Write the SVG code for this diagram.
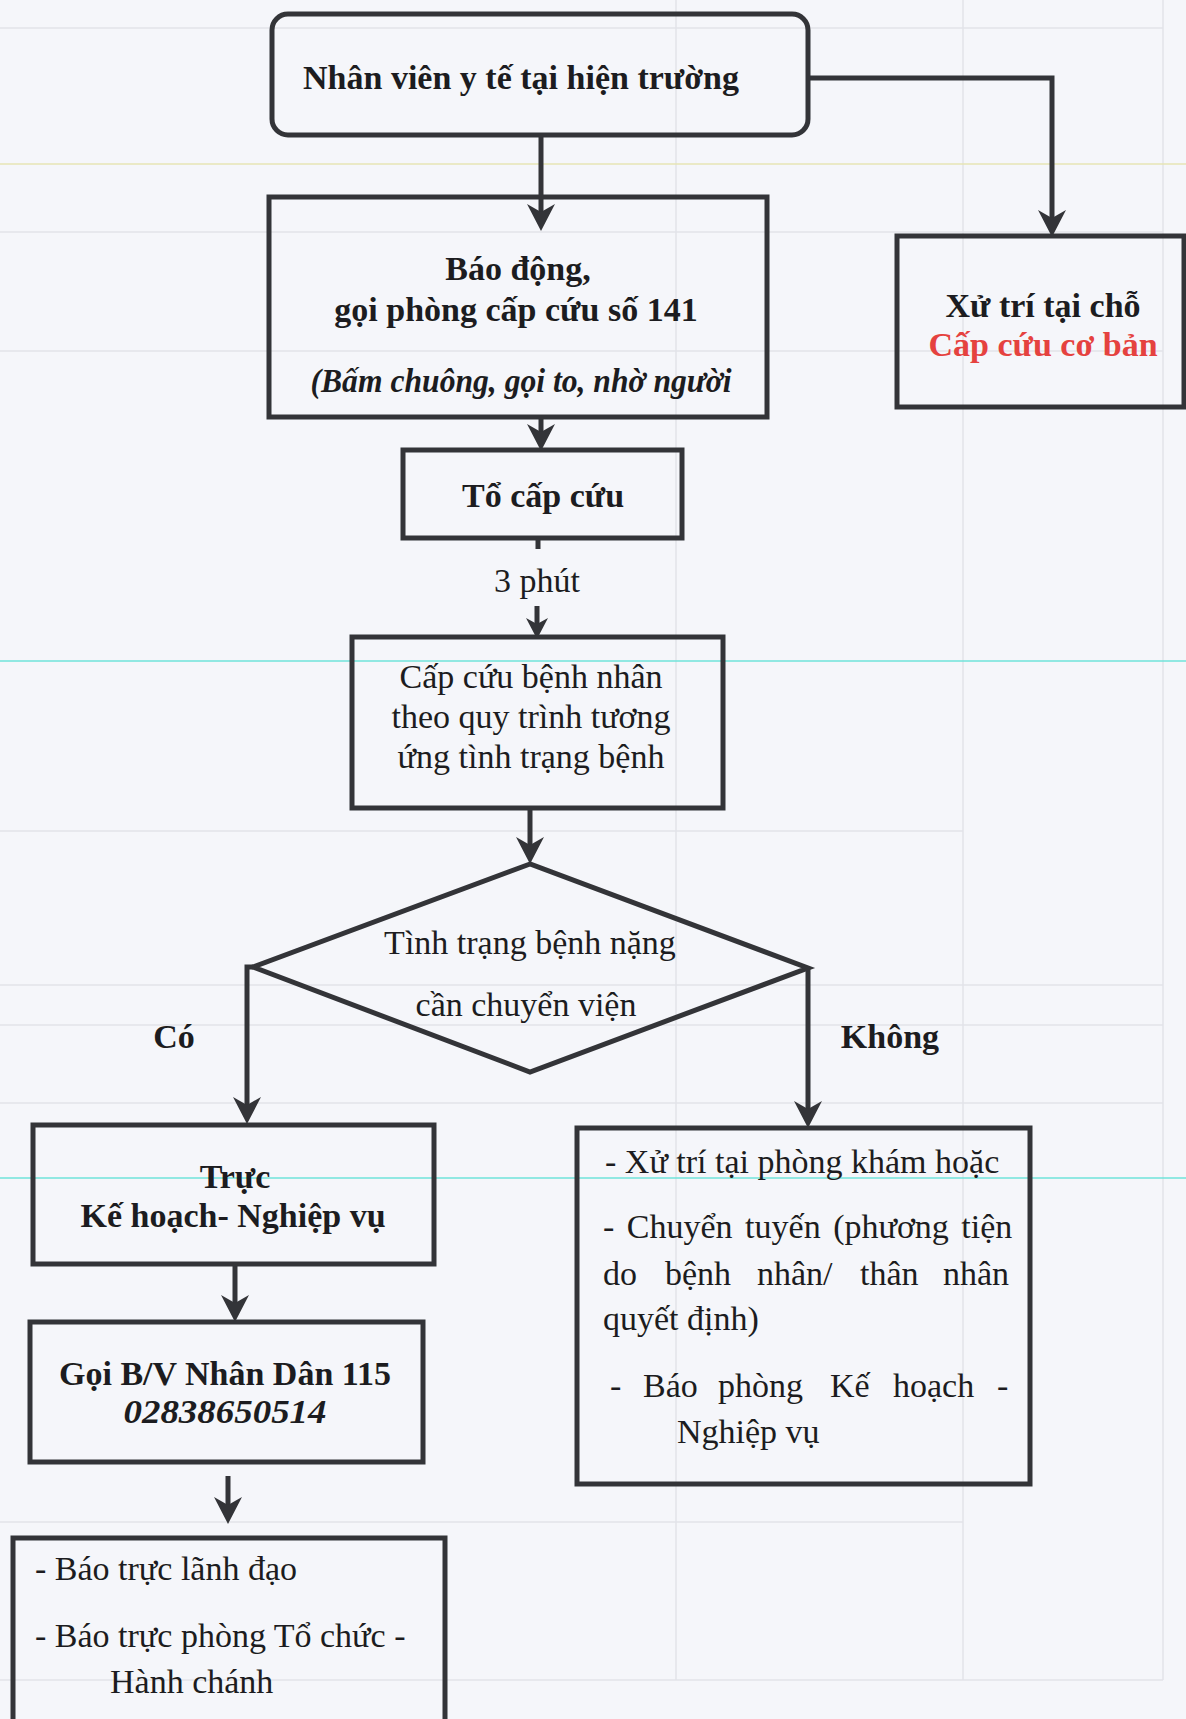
<svg xmlns="http://www.w3.org/2000/svg" width="1186" height="1719" viewBox="0 0 1186 1719">
<style>
.bg{fill:#f5f6fa}
.grid{stroke:#e2e3e8;stroke-width:1.5;fill:none}
.box{fill:none;stroke:#333438;stroke-width:5}
.con{fill:none;stroke:#333438;stroke-width:5}
.t{font-family:"Liberation Serif","Times New Roman",serif;font-size:34px;fill:#1c1c20}
.b{font-weight:bold}
.i{font-style:italic}
.m{text-anchor:middle}
.red{fill:#e5423f}
</style>
<defs>
<marker id="arr" markerUnits="userSpaceOnUse" markerWidth="28" markerHeight="28" viewBox="0 0 28 28" refX="16" refY="14" orient="auto">
<path d="M0,0 L27,14 L0,28 L8,14 Z" fill="#333438"/>
</marker>
<marker id="arrS" markerUnits="userSpaceOnUse" markerWidth="22" markerHeight="22" viewBox="0 0 22 22" refX="12" refY="11" orient="auto">
<path d="M0,0 L21,11 L0,22 L6,11 Z" fill="#333438"/>
</marker>
</defs>
<rect class="bg" x="0" y="0" width="1186" height="1719"/>
<g id="background-grid">
<line class="grid" x1="676" y1="0" x2="676" y2="1680"/>
<line class="grid" x1="963" y1="0" x2="963" y2="1680"/>
<line class="grid" x1="1163" y1="0" x2="1163" y2="1680"/>
<line class="grid" x1="0" y1="28" x2="1163" y2="28"/>
<line class="grid" x1="0" y1="232" x2="1163" y2="232"/>
<line class="grid" x1="0" y1="351" x2="1163" y2="351"/>
<line class="grid" x1="0" y1="831" x2="963" y2="831"/>
<line class="grid" x1="0" y1="985" x2="1163" y2="985"/>
<line class="grid" x1="0" y1="1025" x2="1163" y2="1025"/>
<line class="grid" x1="0" y1="1103" x2="1163" y2="1103"/>
<line class="grid" x1="0" y1="1522" x2="963" y2="1522"/>
<line class="grid" x1="0" y1="1680" x2="1163" y2="1680"/>
<line x1="0" y1="164" x2="1186" y2="164" stroke="#e6e4b4" stroke-width="1.5"/>
<line x1="0" y1="661" x2="1186" y2="661" stroke="#6fe3da" stroke-width="1.5"/>
<line x1="0" y1="1178" x2="1186" y2="1178" stroke="#6fe3da" stroke-width="1.5"/>
</g>
<g id="connectors">
<line class="con" x1="541" y1="136" x2="541" y2="220" marker-end="url(#arr)"/>
<polyline class="con" points="808,78 1052,78 1052,226" marker-end="url(#arr)"/>
<line class="con" x1="541" y1="418" x2="541" y2="440" marker-end="url(#arr)"/>
<line class="con" x1="538" y1="540" x2="538" y2="549"/>
<line class="con" x1="537" y1="606" x2="537" y2="630" marker-end="url(#arrS)"/>
<line class="con" x1="530" y1="808" x2="530" y2="853" marker-end="url(#arr)"/>
<polyline class="con" points="253,967 247,967 247,1113" marker-end="url(#arr)"/>
<polyline class="con" points="808,968 808,1117" marker-end="url(#arr)"/>
<line class="con" x1="235" y1="1265" x2="235" y2="1311" marker-end="url(#arr)"/>
<line class="con" x1="228" y1="1476" x2="228" y2="1513" marker-end="url(#arr)"/>
<text class="t m" x="537" y="592">3 phút</text>
<text class="t b m" x="174" y="1048">Có</text>
<text class="t b m" x="890" y="1048">Không</text>
</g>
<g id="n1">
<rect class="box" x="272" y="14" width="536" height="121" rx="16" stroke-width="4.5"/>
<text class="t b m" x="521" y="89">Nhân viên y tế tại hiện trường</text>
</g>
<g id="n-xutri">
<rect class="box" x="897" y="236" width="287" height="171"/>
<text class="t b m" x="1043" y="317">Xử trí tại chỗ</text>
<text class="t b m red" x="1043" y="356">Cấp cứu cơ bản</text>
</g>
<g id="n2">
<rect class="box" x="269" y="197" width="498" height="220"/>
<text class="t b m" x="518" y="280">Báo động,</text>
<text class="t b m" x="516" y="321">gọi phòng cấp cứu số 141</text>
<text class="t b i m" x="521" y="392" textLength="421" lengthAdjust="spacingAndGlyphs">(Bấm chuông, gọi to, nhờ người</text>
</g>
<g id="n3">
<rect class="box" x="403" y="450" width="279" height="88"/>
<text class="t b m" x="543" y="507">Tổ cấp cứu</text>
</g>
<g id="n4">
<rect class="box" x="352" y="637" width="371" height="171"/>
<text class="t m" x="531" y="688">Cấp cứu bệnh nhân</text>
<text class="t m" x="531" y="728">theo quy trình tương</text>
<text class="t m" x="531" y="768">ứng tình trạng bệnh</text>
</g>
<g id="decision">
<polygon class="box" points="530,864 253,967 530,1072 808,968"/>
<text class="t m" x="530" y="954">Tình trạng bệnh nặng</text>
<text class="t m" x="526" y="1016">cần chuyển viện</text>
</g>
<g id="n-truc">
<rect class="box" x="33" y="1125" width="401" height="139"/>
<text class="t b m" x="235" y="1188">Trực</text>
<text class="t b m" x="233" y="1227">Kế hoạch- Nghiệp vụ</text>
</g>
<g id="n-goi">
<rect class="box" x="30" y="1322" width="393" height="140"/>
<text class="t b m" x="225" y="1385">Gọi B/V Nhân Dân 115</text>
<text class="t b i m" x="225" y="1423" textLength="203" lengthAdjust="spacingAndGlyphs">02838650514</text>
</g>
<g id="n-bao">
<rect class="box" x="13" y="1538" width="432" height="200"/>
<text class="t" x="35" y="1580">- Báo trực lãnh đạo</text>
<text class="t" x="35" y="1647">- Báo trực phòng Tổ chức -</text>
<text class="t" x="110" y="1693">Hành chánh</text>
</g>
<g id="n-phongkham">
<rect class="box" x="577" y="1128" width="453" height="356"/>
<text class="t" x="605" y="1173">- Xử trí tại phòng khám hoặc</text>
<text class="t" x="603" y="1238" word-spacing="4">- Chuyển tuyến (phương tiện</text>
<text class="t" y="1285"><tspan x="603">do</tspan><tspan x="665">bệnh</tspan><tspan x="757">nhân/</tspan><tspan x="860">thân</tspan><tspan x="943">nhân</tspan></text>
<text class="t" x="603" y="1330">quyết định)</text>
<text class="t" y="1397"><tspan x="610">-</tspan><tspan x="643">Báo</tspan><tspan x="718">phòng</tspan><tspan x="830">Kế</tspan><tspan x="893">hoạch</tspan><tspan x="997">-</tspan></text>
<text class="t" x="677" y="1443">Nghiệp vụ</text>
</g>
</svg>
